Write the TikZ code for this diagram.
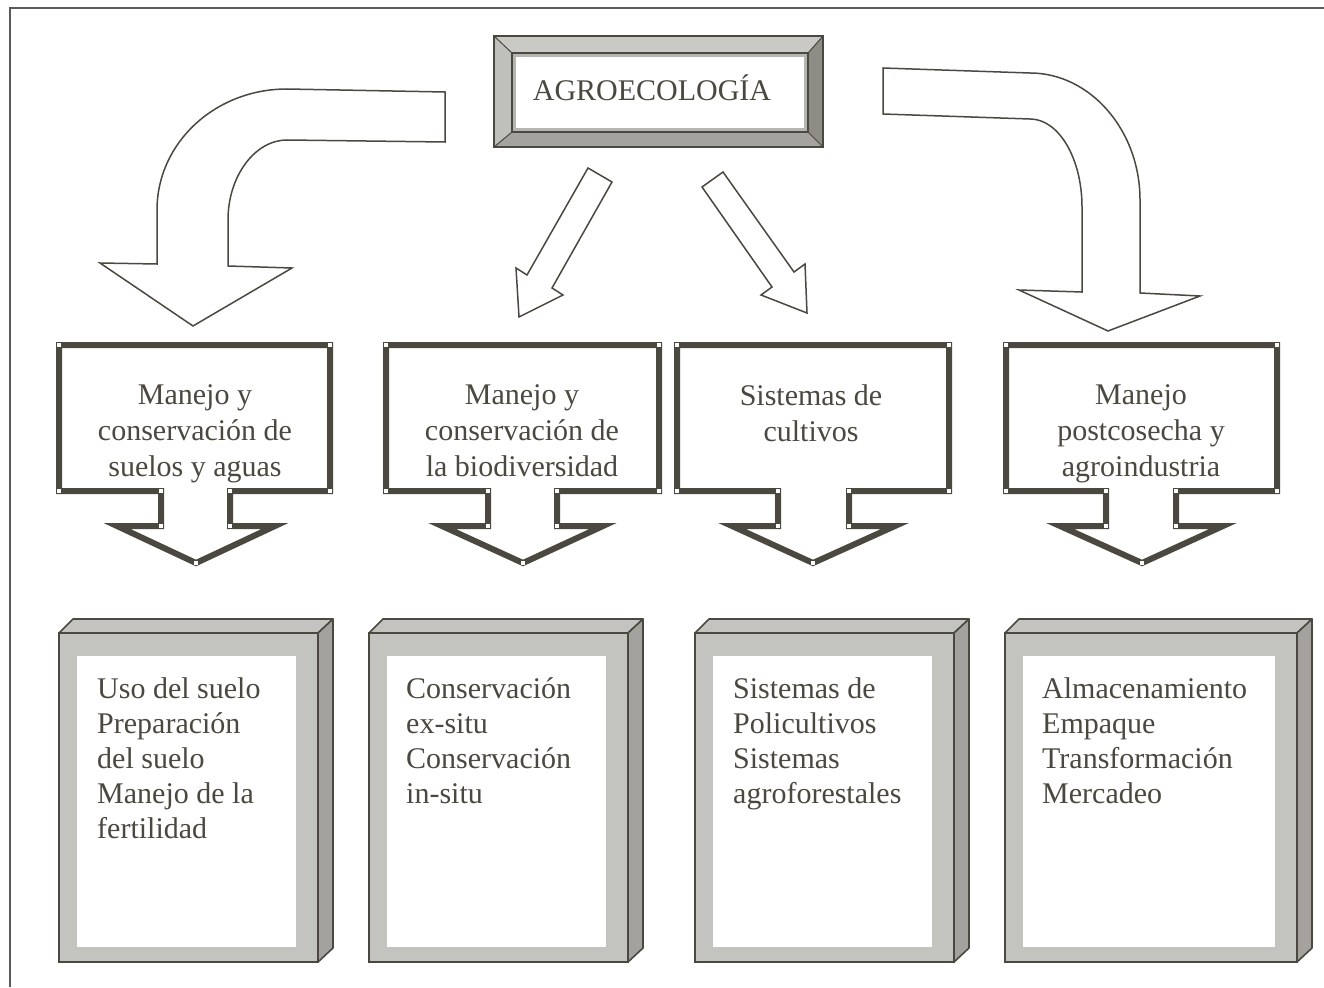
\documentclass[tikz,border=0pt]{standalone}
\usepackage{fontspec}
\setmainfont{Liberation Serif}
\definecolor{ink}{HTML}{4B4840}
\definecolor{frameline}{HTML}{5A5A5A}
\definecolor{bandlight}{HTML}{C9CAC6}
\definecolor{bandmid}{HTML}{A4A3A0}
\definecolor{banddark}{HTML}{8F8B85}
\definecolor{innerline}{HTML}{B5B5B1}
\definecolor{face}{HTML}{C3C4BF}
\definecolor{side}{HTML}{A3A29E}
\newcommand{\mycallout}[7]{%
  \draw[ink, line width=6pt, fill=white, line join=miter]
    (#1,345) -- (#2,345) -- (#2,491) -- (#4,491) -- (#4,526) -- (#7,526)
    -- (#6,563) -- (#5,526) -- (#3,526) -- (#3,491) -- (#1,491) -- cycle;
  \foreach \px/\py in {#1/345,#2/345,#1/491,#2/491,#3/491,#4/491,#3/526,#4/526,#6/563}
    \fill[white] (\px-2,\py-2) rectangle (\px+2,\py+2);
}
\newcommand{\threebox}[2]{%
  \draw[ink, line width=1.6pt, fill=face, line join=round]
    (#1,633) -- (#1+14,619) -- (#2+15,619) -- (#2,633) -- cycle;
  \draw[ink, line width=1.6pt, fill=side, line join=round]
    (#2,633) -- (#2+15,619) -- (#2+15,948) -- (#2,962) -- cycle;
  \draw[ink, line width=1.6pt, fill=face] (#1,633) rectangle (#2,962);
  \fill[white] (#1+18,656) rectangle (#2-22,947);
}
\begin{document}
\begin{tikzpicture}[x=1pt,y=-1pt,
  txt/.style={font=\fontsize{30}{35}\selectfont, text=ink, inner sep=0pt},
  ctxt/.style={txt, font=\fontsize{30}{36}\selectfont, align=center, anchor=north},
  ltxt/.style={txt, align=left, anchor=north west},
  blockarrow/.style={draw=ink, line width=1.5pt, fill=white, line join=miter}]
\useasboundingbox (0,0) rectangle (1324,987);
% outer frame (cropped)
\draw[frameline, line width=2pt] (10,987) -- (10,8) -- (1324,8);

% top framed box
\fill[bandlight] (494,36) -- (823,36) -- (808,53) -- (512,53) -- cycle;
\fill[bandlight!95!black] (494,36) -- (512,53) -- (512,132) -- (494,147) -- cycle;
\fill[banddark] (823,36) -- (823,147) -- (808,132) -- (808,53) -- cycle;
\fill[bandmid] (494,147) -- (823,147) -- (808,132) -- (512,132) -- cycle;
\fill[white] (512,53) rectangle (808,132);
\draw[innerline, line width=3pt] (514.5,55.5) rectangle (805.5,129.5);
\draw[ink, line width=1.5pt] (494,36) rectangle (823,147);
\draw[ink, line width=1.2pt] (512,53) rectangle (808,132);
\draw[ink, line width=1pt] (494,36) -- (512,53) (823,36) -- (808,53)
  (494,147) -- (512,132) (823,147) -- (808,132);
\node[txt] (agro) at (652,88) {AGROECOLOGÍA};

% block arrows
\draw[blockarrow] (445,92) -- (287,89) .. controls (215,89) and (157,143) .. (157,210)
  -- (157,264) -- (100,263) -- (193,326) -- (292,268) -- (228,266) -- (228,220)
  .. controls (228,176) and (255,140) .. (287,140) -- (445,142) -- cycle;
\draw[blockarrow] (883,68) -- (1030,73) .. controls (1090,73) and (1140,130) .. (1140,200)
  -- (1140,293) -- (1200,296) -- (1108,331) -- (1019,290) -- (1082,292) -- (1082,207)
  .. controls (1082,159) and (1059,119) .. (1030,119) -- (883,114) -- cycle;
\draw[blockarrow] (588,168) -- (612,182) -- (552,288) -- (563,295) -- (519,317)
  -- (516,268) -- (527,275) -- cycle;
\draw[blockarrow] (723,172) -- (794,272) -- (805,264) -- (807,313) -- (761,295)
  -- (772,287) -- (702,187) -- cycle;

% callouts
\mycallout{59}{330}{161}{230}{117}{196}{275}
\mycallout{386}{659}{488}{557}{442}{523}{603}
\mycallout{677}{949}{778}{849}{732}{813}{895}
\mycallout{1006}{1277}{1106}{1176}{1060}{1142}{1223}
\node[ctxt] (c1) at (195,384) {Manejo y\\conservación de\\suelos y aguas};
\node[ctxt] (c2) at (522,384) {Manejo y\\conservación de\\la biodiversidad};
\node[ctxt] (c3) at (811,384) {Sistemas de\\cultivos};
\node[ctxt] (c4) at (1141,384) {Manejo\\postcosecha y\\agroindustria};

% 3D boxes
\threebox{59}{318}
\threebox{369}{628}
\threebox{695}{954}
\threebox{1005}{1297}
\node[ltxt] (b1) at (97,677) {Uso del suelo\\Preparación\\del suelo\\Manejo de la\\fertilidad};
\node[ltxt] (b2) at (406,677) {Conservación\\ex-situ\\Conservación\\in-situ};
\node[ltxt] (b3) at (733,677) {Sistemas de\\Policultivos\\Sistemas\\agroforestales};
\node[ltxt] (b4) at (1042,677) {Almacenamiento\\Empaque\\Transformación\\Mercadeo};
\end{tikzpicture}
\end{document}
